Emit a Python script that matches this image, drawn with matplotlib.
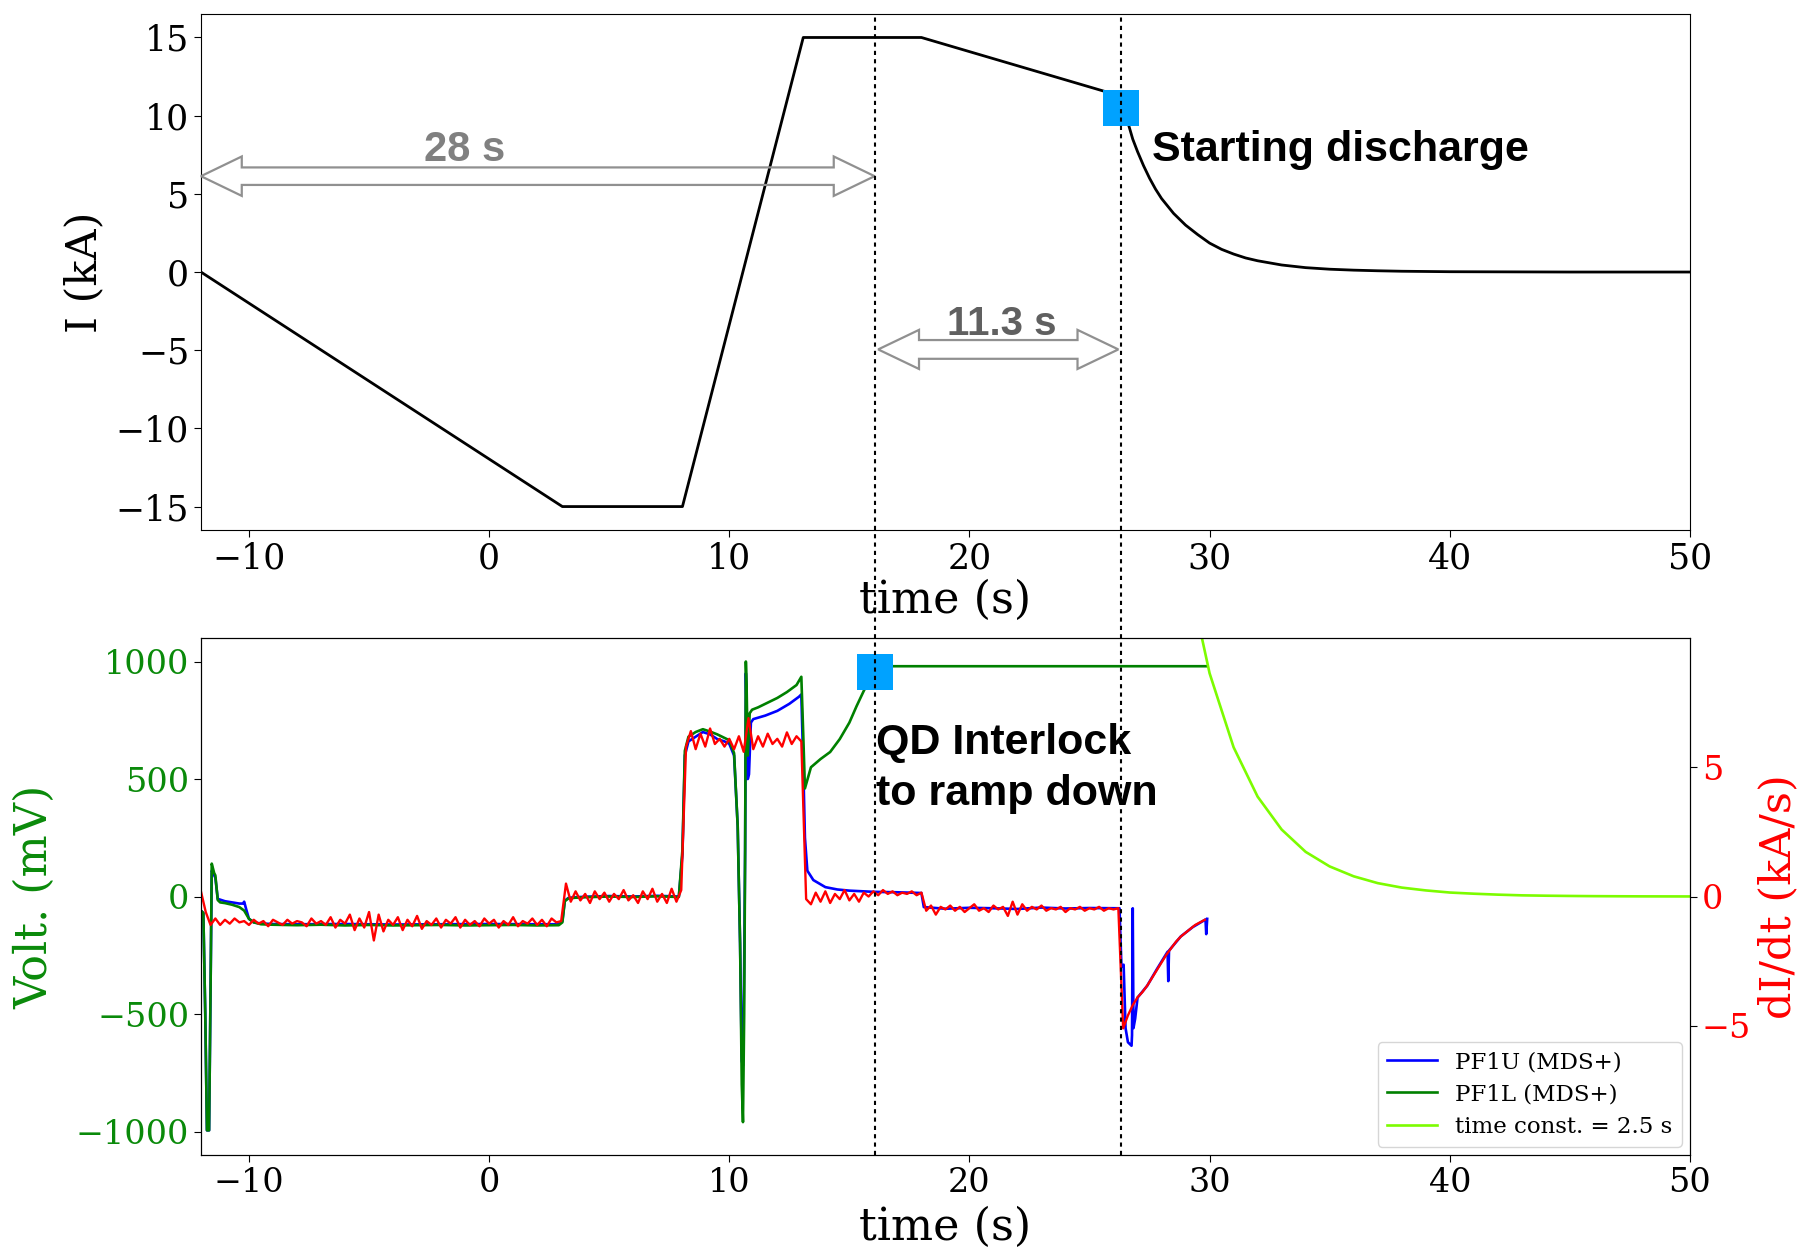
import numpy as np
import matplotlib
matplotlib.use('Agg')
import matplotlib.pyplot as plt
from matplotlib.patches import Polygon
from matplotlib.lines import Line2D

# ---- data ----
# coil current (top panel)
cur_t = [-12.0, 3.05, 8.05, 13.08, 18.0, 26.3, 26.45, 26.6, 26.8, 27.0, 27.25, 27.5,
         27.75, 28.0, 28.5, 29.0, 29.5, 30.0, 30.5, 31.0, 31.5, 32.0, 33.0, 34.0,
         35.0, 36.0, 37.0, 38.0, 40.0, 45.0, 50.0]
cur_i = [0.0, -15.0, -15.0, 15.0, 15.0, 11.25, 10.4, 9.55, 8.5, 7.7, 6.8, 6.0,
         5.3, 4.7, 3.75, 3.0, 2.4, 1.85, 1.45, 1.15, 0.9, 0.72, 0.45, 0.28,
         0.18, 0.12, 0.08, 0.05, 0.02, 0.0, 0.0]

# PF1L voltage (mV)
pf1l_t = [-12.0, -11.9, -11.82, -11.75, -11.66, -11.6, -11.55, -11.5, -11.45, -11.4,
          -11.3, -11.2, -11.0, -10.7, -10.4, -10.2, -10.0, -9.8, -9.5, -9.0, -8.0,
          -7.0, -6.0, -5.0, -4.0, -3.0, -2.0, -1.0, 0.0, 1.0, 2.0, 2.9, 3.05, 3.15,
          3.3, 3.6, 4.0, 5.0, 6.0, 7.0, 7.9, 8.05, 8.15, 8.3, 8.6, 8.9, 9.2, 9.5,
          9.8, 10.0, 10.2, 10.35, 10.45, 10.52, 10.57, 10.62, 10.66, 10.69, 10.72,
          10.77, 10.85, 10.95, 11.2, 11.6, 12.0, 12.4, 12.8, 13.0, 13.07, 13.15,
          13.4, 13.8, 14.2, 14.6, 15.0, 15.3, 15.6, 15.9, 16.2, 16.5, 20.0, 25.0, 29.9]
pf1l_v = [-60, -70, -500, -995, -995, -400, 140, 120, 100, 90,
          -15, -25, -28, -35, -45, -60, -95, -110, -118, -120, -122,
          -120, -123, -121, -123, -122, -121, -123, -122, -121, -123, -122, -110, -20,
          -8, -5, -3, 0, -2, 1, -2, 200, 620, 680, 700, 712, 702, 690,
          675, 665, 610, 300, -200, -800, -960, -500, 200, 1000, 900,
          600, 780, 795, 805, 825, 845, 870, 900, 935, 720, 460,
          550, 585, 615, 670, 740, 810, 875, 935, 975, 980, 980, 980, 980]

# PF1U voltage (mV)
pf1u_t = [-12.0, -11.9, -11.82, -11.75, -11.66, -11.6, -11.55, -11.5, -11.45, -11.4,
          -11.3, -11.0, -10.7, -10.4, -10.25, -10.2, -10.1, -10.0, -9.8, -9.5, -9.0,
          -8.0, -6.0, -4.0, -2.0, 0.0, 2.0, 2.9, 3.05, 3.15, 3.3, 3.6, 4.0, 5.0, 6.0,
          7.0, 7.9, 8.05, 8.15, 8.3, 8.6, 8.9, 9.2, 9.5, 9.8, 10.0, 10.2, 10.35,
          10.45, 10.52, 10.57, 10.62, 10.66, 10.69, 10.72, 10.77, 10.82, 10.9, 11.0,
          11.5, 12.0, 12.5, 12.9, 13.0, 13.07, 13.15, 13.25, 13.5, 14.0, 14.5, 15.0,
          16.0, 17.0, 18.0, 18.1, 19.0, 20.0, 21.0, 22.0, 23.0, 24.0, 25.0, 26.25,
          26.28, 26.33, 26.42, 26.5, 26.6, 26.75, 26.77, 26.8, 26.83, 26.9, 27.0,
          27.4, 27.8, 28.25, 28.28, 28.31, 28.8, 29.3, 29.83, 29.86, 29.9]
pf1u_v = [-60, -70, -500, -995, -995, -400, 110, 100, 90, 80,
          -10, -20, -25, -30, -30, -22, -60, -95, -110, -115, -117,
          -118, -117, -119, -118, -117, -118, -118, -105, -18,
          -6, -3, -1, 2, 0, 3, 0, 180, 600, 660, 680, 700, 690, 670, 660,
          650, 600, 300, -200, -700, -720, -300, 200, 950, 800, 500, 520, 740,
          755, 770, 790, 820, 850, 860, 600, 250, 110, 70, 40, 30, 25,
          20, 18, 15, -45, -52, -48, -50, -53, -47, -51, -49, -50,
          -150, -300, -290, -560, -620, -635, -590, -50, -560, -520, -430,
          -380, -310, -235, -360, -230, -170, -130, -98, -160, -95]

# decay with 2.5 s time constant (mV)
tc_t = [29.0, 30.0, 31.0, 32.0, 33.0, 34.0, 35.0, 36.0, 37.0, 38.0, 39.0, 40.0,
        41.0, 42.0, 43.0, 44.0, 45.0, 46.0, 47.0, 48.0, 49.0, 50.0]
tc_v = [1420, 950, 635, 425, 285, 190, 128, 86, 57, 38, 26, 17,
        12, 8, 5, 3.5, 2.4, 1.6, 1.1, 0.7, 0.5, 0.3]

# dI/dt (kA/s), sampled every 0.2 s from -12.0 to 29.8
didt_t = np.linspace(-12.0, 29.8, 210)
didt = [0.2, -0.6, -1.1, -0.85, -1.1, -0.9, -1.05, -0.85, -1.0, -0.95,
        -1.1, -0.9, -1.05, -0.95, -1.15, -0.9, -1.0, -1.1, -0.9, -1.05,
        -0.95, -1.0, -1.15, -0.85, -1.05, -0.95, -1.1, -0.8, -1.2, -0.9,
        -1.05, -0.7, -1.3, -0.85, -1.2, -0.6, -1.7, -0.7, -1.35, -0.9,
        -1.1, -0.8, -1.3, -0.9, -1.15, -0.75, -1.25, -0.95, -1.1, -0.85,
        -1.2, -0.9, -1.05, -0.8, -1.2, -0.9, -1.1, -0.95, -1.15, -0.85,
        -1.05, -0.9, -1.2, -0.95, -1.1, -0.8, -1.15, -0.95, -1.05, -0.85,
        -1.1, -0.9, -1.15, -0.85, -1.0, -0.95,
        0.5, -0.2, 0.2, -0.15, 0.1, -0.25, 0.2, -0.1, 0.15, -0.2,
        0.1, -0.1, 0.25, -0.15, 0.05, -0.25, 0.2, -0.1, 0.3, -0.2,
        0.1, -0.25, 0.3, -0.2, 0.25,
        5.8, 6.4, 5.7, 6.3, 5.8, 6.5, 5.9, 6.1, 5.8, 6.1,
        5.7, 6.2, 5.6, 6.9, 5.7, 6.2, 5.8, 6.3, 5.9, 6.1,
        5.8, 6.35, 5.9, 6.2, 6.0,
        -0.1, -0.3, 0.15, -0.2, 0.2, -0.25, 0.1, -0.1, 0.25, -0.15,
        0.1, -0.2, 0.15, 0.0, 0.2, 0.05, 0.25, 0.1, 0.2, 0.05,
        0.15, 0.1, 0.2, 0.05, 0.15,
        -0.55, -0.35, -0.7, -0.4, -0.5, -0.35, -0.55, -0.4, -0.6, -0.45,
        -0.3, -0.55, -0.45, -0.6, -0.35, -0.5, -0.4, -0.75, -0.2, -0.7,
        -0.3, -0.55, -0.4, -0.5, -0.35, -0.55, -0.45, -0.5, -0.4, -0.6,
        -0.45, -0.5, -0.4, -0.55, -0.45, -0.5, -0.4, -0.55, -0.45, -0.5,
        -0.45,
        -5.1, -4.6, -4.2, -3.9, -3.7, -3.45, -3.15, -2.85, -2.55, -2.25,
        -2.0, -1.75, -1.55, -1.4, -1.25, -1.1, -1.0, -0.9]

t_interlock = 16.05
t_discharge = 26.33
xticks = [-10, 0, 10, 20, 30, 40, 50]

plt.rcParams['font.family'] = 'DejaVu Serif'
ann_font = ['Liberation Sans', 'DejaVu Sans']
sq_color = '#00A2FF'


def double_arrow(ax, x0, x1, y, body, head, hlen, color):
    # hollow two-headed arrow, outline only
    pts = [(x0, y), (x0 + hlen, y + head), (x0 + hlen, y + body),
           (x1 - hlen, y + body), (x1 - hlen, y + head), (x1, y),
           (x1 - hlen, y - head), (x1 - hlen, y - body),
           (x0 + hlen, y - body), (x0 + hlen, y - head)]
    ax.add_patch(Polygon(pts, closed=True, fill=False, edgecolor=color,
                         lw=1.6, clip_on=False, zorder=4))


fig = plt.figure(figsize=(18.07, 12.53), dpi=100)
ax1 = fig.add_axes([0.1112, 0.5770, 0.8240, 0.4118])
ax2 = fig.add_axes([0.1112, 0.0782, 0.8240, 0.4126])
ax3 = ax2.twinx()

# ---- top panel ----
ax1.plot(cur_t, cur_i, color='k', lw=2)
ax1.set_xlim(-12, 50)
ax1.set_ylim(-16.5, 16.5)
ax1.set_xticks(xticks)
ax1.set_yticks([-15, -10, -5, 0, 5, 10, 15])
ax1.tick_params(labelsize=25, length=5)
ax1.set_xlabel('time (s)', fontsize=32)
ax1.set_ylabel('I (kA)', fontsize=31)
ax1.xaxis.set_label_coords(0.5, -0.095)
ax1.yaxis.set_label_coords(-0.064, 0.5)

double_arrow(ax1, -12.0, t_interlock, 6.13, 0.56, 1.26, 1.7, '#909090')
double_arrow(ax1, 16.2, 26.2, -4.95, 0.6, 1.25, 1.7, '#909090')
ax1.text(-1.0, 7.1, '28 s', ha='center', va='baseline', fontsize=30,
         fontweight='bold', color='#808080', family=ann_font)
ax1.text(21.35, -4.0, '11.3 s', ha='center', va='baseline', fontsize=29,
         fontweight='bold', color='#606060', family=ann_font)
ax1.text(27.6, 7.1, 'Starting discharge', ha='left', va='baseline', fontsize=31,
         fontweight='bold', color='k', family=ann_font)
ax1.plot(t_discharge, 10.5, marker='s', ms=26, color=sq_color, mew=0, zorder=5)

# ---- bottom panel ----
ax2.plot(pf1u_t, pf1u_v, color='#0000ff', lw=1.9, label='PF1U (MDS+)')
ax2.plot(pf1l_t, pf1l_v, color='#008000', lw=1.9, label='PF1L (MDS+)')
ax2.plot(tc_t, tc_v, color='#7CFC00', lw=1.9, label='time const. = 2.5 s')
ax2.plot(t_interlock, 954, marker='s', ms=26, color=sq_color, mew=0, zorder=5)
ax2.set_xlim(-12, 50)
ax2.set_ylim(-1100, 1100)
ax2.set_xticks(xticks)
ax2.set_yticks([-1000, -500, 0, 500, 1000])
ax2.tick_params(labelsize=24, length=5)
ax2.tick_params(axis='y', labelcolor='#0a8a0a')
ax2.set_xlabel('time (s)', fontsize=32)
ax2.set_ylabel('Volt. (mV)', fontsize=32, color='#0a8a0a')
ax2.xaxis.set_label_coords(0.5, -0.098)
ax2.yaxis.set_label_coords(-0.097, 0.5)
ax2.legend(loc='lower right', fontsize=16.5, handlelength=2.2, borderaxespad=0.35,
           labelspacing=0.45)

ax2.text(t_interlock + 0.05, 605, 'QD Interlock', ha='left', va='baseline',
         fontsize=31, fontweight='bold', color='k', family=ann_font)
ax2.text(t_interlock + 0.05, 390, 'to ramp down', ha='left', va='baseline',
         fontsize=31, fontweight='bold', color='k', family=ann_font)

ax3.plot(didt_t, didt, color='#ff0000', lw=1.7)
ax3.set_ylim(-10, 10)
ax3.set_yticks([-5, 0, 5])
ax3.tick_params(labelsize=24, length=5, labelcolor='#ff0000')
ax3.set_ylabel('dI/dt (kA/s)', fontsize=31, color='#ff0000')
ax3.yaxis.set_label_coords(1.045, 0.5)

# dotted markers running through both panels
y_lo = ax2.get_position().y0
y_hi = ax1.get_position().y1
for t in (t_interlock, t_discharge):
    xf = fig.transFigure.inverted().transform(ax1.transData.transform((t, 0)))[0]
    fig.add_artist(Line2D([xf, xf], [y_lo, y_hi], transform=fig.transFigure,
                          color='k', lw=1.5, ls=(0, (2, 2))))

fig.savefig('out.png', dpi=100)
